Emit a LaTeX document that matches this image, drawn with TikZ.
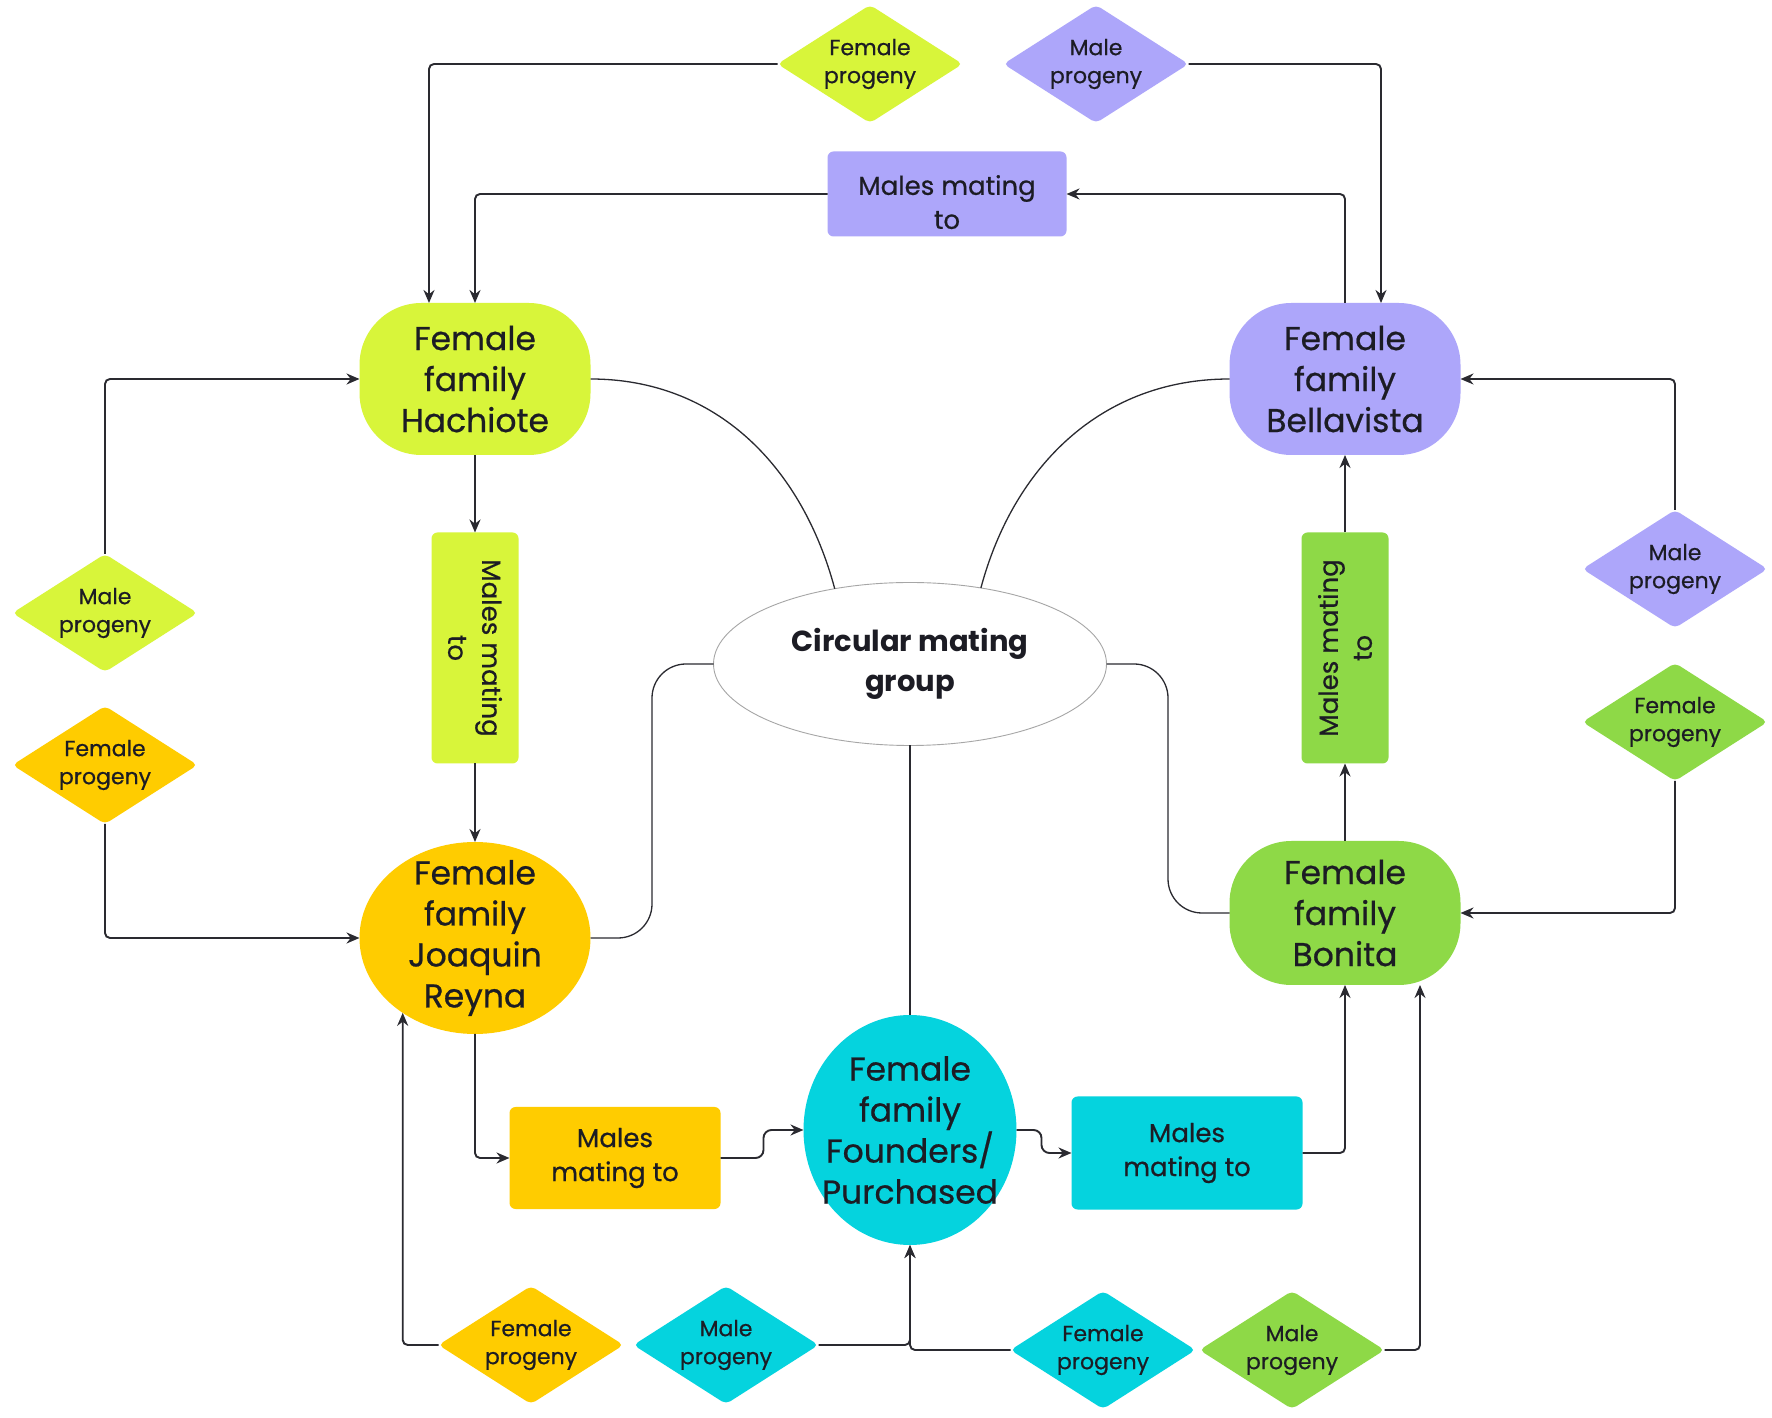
\documentclass[tikz,border=0pt]{standalone}
\usepackage{fontspec}
\setmainfont{Poppins}[UprightFeatures={FakeBold=0.6}]
\usetikzlibrary{shapes.geometric, arrows.meta, calc}
\definecolor{cLime}{HTML}{D8F53A}
\definecolor{cPurple}{HTML}{ADA6FA}
\definecolor{cYellow}{HTML}{FFCC00}
\definecolor{cGreen}{HTML}{8ED947}
\definecolor{cCyan}{HTML}{05D3DE}
\definecolor{cText}{HTML}{1C1C24}
\definecolor{cLine}{HTML}{2A2A30}
\begin{document}
\begin{tikzpicture}[x=1pt,y=1pt,
  famrect/.style={rounded corners=62pt, minimum width=231pt, minimum height=152pt, inner sep=0pt, outer sep=0pt, align=center, font=\fontsize{33}{41}\selectfont, text=cText},
  famell/.style={ellipse, inner sep=0pt, outer sep=0pt},
  famtext/.style={align=center, inner sep=0pt, font=\fontsize{33}{41}\selectfont, text=cText},
  mbox/.style={rounded corners=6pt, inner sep=0pt, outer sep=0pt, align=center, font=\fontsize{26}{34}\selectfont, text=cText},
  prog/.style={diamond, rounded corners=5pt, minimum width=185pt, minimum height=118pt, aspect=1.57, inner sep=0pt, outer sep=0pt, align=center, font=\fontsize{22}{28}\selectfont, text=cText},
  arr/.style={draw=cLine, line width=1.9pt, rounded corners=5pt, -{Stealth[length=13pt,width=11pt]}},
  link/.style={draw=cLine, line width=1.3pt}
]
\fill[white] (0,0) rectangle (1772,1417);
\useasboundingbox (0,0) rectangle (1772,1417);

% family nodes
\node[famrect, fill=cLime] (hach) at (475,1038) {Female\\family\\Hachiote};
\node[famrect, fill=cPurple] (bella) at (1345,1038) {Female\\family\\Bellavista};
\node[famrect, fill=cGreen, minimum height=144pt] (bonita) at (1345,504) {Female\\family\\Bonita};
\node[famell, fill=cYellow, minimum width=231pt, minimum height=192pt] (joaq) at (475,479) {};
\node[famtext] (joaqT) at (joaq) {Female\\family\\Joaquin\\Reyna};
\node[famell, fill=cCyan, minimum width=213pt, minimum height=230pt] (found) at (910,287) {};
\node[famtext] (foundT) at (found) {Female\\family\\Founders/\\Purchased};

% central ellipse
\node[ellipse, draw=gray!70, line width=0.9pt, fill=white, minimum width=393pt, minimum height=163pt, inner sep=0pt, outer sep=0pt, align=center, font=\bfseries\fontsize{29}{40}\selectfont, text=cText] (circ) at (910,753) {Circular mating\\group};

% males mating boxes
\node[mbox, fill=cPurple, minimum width=239pt, minimum height=85pt] (mpurp) at (947,1223) {\rule{0pt}{36pt}Males mating\\to};
\node[mbox, fill=cLime, rotate=-90, minimum width=231pt, minimum height=87pt] (mlime) at (475,769) {Males mating\\to};
\node[mbox, fill=cGreen, rotate=90, minimum width=231pt, minimum height=87pt] (mgreen) at (1345,769) {Males mating\\to};
\node[mbox, fill=cYellow, minimum width=211pt, minimum height=102pt] (myel) at (615,259) {Males\\mating to};
\node[mbox, fill=cCyan, minimum width=231pt, minimum height=113pt] (mcyan) at (1187,264) {Males\\mating to};

% progeny diamonds
\node[prog, fill=cLime] (dFtop) at (870,1353) {Female\\progeny};
\node[prog, fill=cPurple] (dMtop) at (1096,1353) {Male\\progeny};
\node[prog, fill=cLime] (dMleft) at (105,804) {Male\\progeny};
\node[prog, fill=cYellow] (dFleft) at (105,652) {Female\\progeny};
\node[prog, fill=cPurple] (dMright) at (1675,848) {Male\\progeny};
\node[prog, fill=cGreen] (dFright) at (1675,695) {Female\\progeny};
\node[prog, fill=cYellow] (dFbot1) at (531,72) {Female\\progeny};
\node[prog, fill=cCyan] (dMbot1) at (726,72) {Male\\progeny};
\node[prog, fill=cCyan] (dFbot2) at (1103,67) {Female\\progeny};
\node[prog, fill=cGreen] (dMbot2) at (1292,67) {Male\\progeny};

% links to the circular mating group
\draw[link] (hach.east) to[out=0, in=105] (circ.135);
\draw[link] (bella.west) to[out=180, in=75] (circ.47);
\draw[link, rounded corners=34pt] (joaq.east) -| ($(joaq.east)!0.5!(circ.west)$) |- (circ.west);
\draw[link, rounded corners=34pt] (bonita.west) -| ($(bonita.west)!0.5!(circ.east)$) |- (circ.east);
\draw[link] (circ.south) -- (found.north);

% arrows
\draw[arr] (dFtop.west) -| ([xshift=-46pt]hach.north);
\draw[arr] (mpurp.west) -| (hach.north);
\draw[arr] (bella.north) |- (mpurp.east);
\draw[arr] (dMtop.east) -| ([xshift=36pt]bella.north);
\draw[arr] (hach) -- (mlime);
\draw[arr] (mlime) -- (joaq);
\draw[arr] (bonita) -- (mgreen);
\draw[arr] (mgreen) -- (bella);
\draw[arr] (dMleft.north) |- (hach.west);
\draw[arr] (dFleft.south) |- (joaq.west);
\draw[arr] (dMright.north) |- (bella.east);
\draw[arr] (dFright.south) |- (bonita.east);
\draw[arr] (joaq.south) |- (myel.west);
\draw[arr, rounded corners=8pt] (myel.east) -| ([xshift=-40pt]found.west) -- (found.west);
\draw[arr, rounded corners=8pt] (found.east) -| ([xshift=-30pt]mcyan.west) -- (mcyan.west);
\draw[arr] (mcyan.east) -| (bonita.south);
\draw[arr] (dFbot1.west) -| (joaq.226);
\draw[arr] (dMbot1.east) -| (found.south);
\draw[arr] (dFbot2.west) -| (found.south);
\draw[arr] (dMbot2.east) -| ([xshift=75pt]bonita.south);
\end{tikzpicture}
\end{document}
